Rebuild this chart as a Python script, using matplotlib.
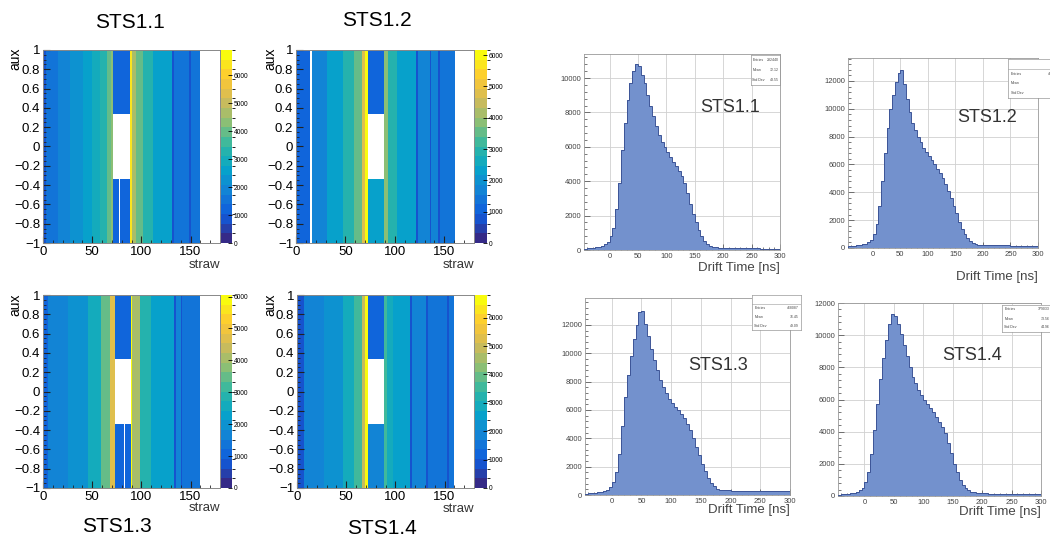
import numpy as np
import matplotlib
matplotlib.use('Agg')
import matplotlib.pyplot as plt
from matplotlib.colors import LinearSegmentedColormap, BoundaryNorm
from matplotlib.ticker import MultipleLocator, FuncFormatter

plt.rcParams['font.family'] = ['Liberation Sans', 'DejaVu Sans']

nan = np.nan

# ---------------- straw occupancy (straw vs aux) ----------------
# column edges in straw number; counts for the upper (aux > 1/3) and lower (aux < -1/3) parts
edges_11 = [0, 3, 15, 27, 41, 50, 58, 65, 69, 71, 77, 78, 88, 90, 95, 102, 112, 131, 133, 148, 150, 160, 180]
upper_11 = [800, 1500, 1800, 2200, 2600, 2900, 3300, 3800, 4300, 1300, 1300, 1300, 6300, 4700, 3800, 3200, 2700, 800, 1700, 700, 1500, nan]
lower_11 = [800, 1500, 1800, 2200, 2600, 2900, 3300, 3800, 4300, 1300, nan, 1300, 6300, 4700, 3800, 3200, 2700, 800, 1700, 700, 1500, nan]
gap_11 = (71, 88)
zmax_11 = 6900

edges_12 = [0, 14, 16, 31, 48, 59, 67, 70, 73, 89, 93, 102, 121, 123, 135, 137, 144, 146, 161, 180]
upper_12 = [1000, nan, 1800, 2300, 2800, 3500, 4800, 6000, 1100, 3700, 3000, 2300, 900, 1800, 900, 1700, 900, 1500, nan]
lower_12 = [1000, nan, 1800, 2300, 2800, 3500, 4800, 6000, 2300, 3700, 3000, 2300, 900, 1800, 900, 1700, 900, 1500, nan]
gap_12 = (73, 89)
zmax_12 = 6160

edges_13 = [0, 5, 25, 46, 59, 68, 73, 82, 83, 89, 91, 99, 110, 133, 135, 140, 141, 160, 180]
upper_13 = [1000, 1600, 2100, 2700, 3500, 4700, 1200, 1200, 1200, 5900, 4100, 3000, 2300, 800, 1800, 800, 1500, nan]
lower_13 = [1000, 1600, 2100, 2700, 3500, 4700, 1200, nan, 1200, 5900, 4100, 3000, 2300, 800, 1800, 800, 1500, nan]
gap_13 = (73, 89)
zmax_13 = 6050

edges_14 = [0, 7, 27, 47, 58, 66, 69, 72, 88, 92, 98, 115, 117, 131, 133, 153, 155, 160, 180]
upper_14 = [900, 1700, 2200, 2800, 3700, 5000, 6600, 1200, 3500, 2800, 2400, 900, 1800, 900, 1600, 900, 1500, nan]
lower_14 = [900, 1700, 2200, 2800, 3700, 5000, 6600, 1900, 3500, 2800, 2400, 900, 1800, 900, 1600, 900, 1500, nan]
gap_14 = (72, 88)
zmax_14 = 6800

# ---------------- drift time spectra, 5 ns bins from -45 ns ----------------
dt_edges = np.arange(-45, 301, 5)

drift_11 = [80, 100, 110, 130, 160, 190, 240, 320, 450,
            800, 1300, 2400, 3900, 5800, 7400, 8700, 9700, 10400, 10800,
            10700, 10200, 9700, 9000, 8400, 7800, 7200, 6700, 6300, 6000,
            5700, 5400, 5100, 4900, 4600, 4300, 3900, 3300, 2700, 2100,
            1600, 1150, 800, 520, 350, 240, 180, 150, 130, 120,
            110, 110, 105, 100, 100, 100, 95, 95, 95, 90,
            90, 90, 90, 85, 85, 85, 85, 80, 80, 80]
drift_12 = [150, 160, 170, 190, 220, 260, 320, 420, 600,
            1000, 1700, 3000, 4800, 6800, 8600, 10000, 11000, 11900, 12600,
            12800, 11800, 10700, 9800, 9000, 8500, 8000, 7600, 7200, 6900,
            6600, 6300, 6000, 5700, 5400, 5000, 4600, 4100, 3600, 3000,
            2500, 1900, 1400, 1000, 700, 500, 380, 300, 250, 220,
            210, 200, 200, 195, 190, 190, 185, 180, 180, 180,
            175, 175, 170, 170, 170, 165, 165, 160, 160, 160]
drift_13 = [100, 110, 130, 150, 180, 220, 280, 380, 550,
            950, 1600, 2900, 4900, 6900, 8500, 9800, 11000, 12000, 12900,
            13000, 12100, 11200, 10300, 9500, 8800, 8100, 7600, 7200, 6800,
            6500, 6200, 6000, 5700, 5400, 5000, 4600, 4000, 3400, 2800,
            2200, 1700, 1200, 850, 600, 450, 380, 350, 330, 320,
            310, 310, 300, 300, 300, 295, 290, 290, 285, 285,
            280, 280, 280, 275, 275, 270, 270, 270, 265, 265]
drift_14 = [90, 100, 110, 130, 160, 200, 260, 350, 500,
            900, 1500, 2600, 4100, 5700, 7300, 8600, 9700, 10700, 11300,
            11200, 10700, 10100, 9400, 8700, 8000, 7400, 7000, 6600, 6300,
            6000, 5700, 5500, 5200, 4900, 4600, 4300, 3900, 3300, 2700,
            2000, 1500, 1000, 700, 480, 350, 270, 220, 190, 170,
            160, 160, 155, 155, 150, 150, 150, 145, 145, 145,
            145, 140, 140, 140, 140, 140, 135, 135, 135, 135]

stats_11 = [('Entries', '282440'), ('Mean', '72.12'), ('Std Dev', '43.55')]
stats_12 = [('Entries', '468750'), ('Mean', '77.03'), ('Std Dev', '48.41')]
stats_13 = [('Entries', '468087'), ('Mean', '76.45'), ('Std Dev', '49.09')]
stats_14 = [('Entries', '379033'), ('Mean', '73.56'), ('Std Dev', '44.96')]

# ROOT "bird" palette
stops = [0.0, 0.125, 0.25, 0.375, 0.5, 0.625, 0.75, 0.875, 1.0]
red = [0.2082, 0.0592, 0.0780, 0.0232, 0.1802, 0.5301, 0.8186, 0.9956, 0.9764]
green = [0.1664, 0.3599, 0.5041, 0.6419, 0.7178, 0.7492, 0.7328, 0.7862, 0.9832]
blue = [0.5293, 0.8684, 0.8385, 0.7914, 0.6425, 0.4662, 0.3499, 0.1968, 0.0539]
bird = LinearSegmentedColormap.from_list('bird', list(zip(stops, zip(red, green, blue))), N=256)

W, H = 1050, 540
fig = plt.figure(figsize=(10.5, 5.4), dpi=100)


def rect(l, t, r, b):
    return [l / W, 1 - b / H, (r - l) / W, (b - t) / H]


def fx(x):
    return x / W


def fy(y):
    return 1 - y / H


def num(v, pos=None):
    return ('%g' % round(v, 6)).replace('-', '\u2212')


def occupancy(box, cbar_r, edges, upper, lower, gap, zmax, title, title_xy, aux_xy, straw_y):
    l, t, r, b = box
    ax = fig.add_axes(rect(l, t, r, b))
    edges = np.array(edges, float)
    upper = np.array(upper, float)
    lower = np.array(lower, float)
    centres = (edges[:-1] + edges[1:]) / 2
    middle = np.where((centres > gap[0]) & (centres < gap[1]), nan, upper)
    z = np.vstack([lower, middle, upper])
    norm = BoundaryNorm(np.linspace(0, zmax, 21), bird.N)
    mesh = ax.pcolormesh(edges, [-1, -1 / 3, 1 / 3, 1], z, cmap=bird, norm=norm)
    ax.set_xlim(0, 180)
    ax.set_ylim(-1, 1)
    ax.xaxis.set_major_locator(MultipleLocator(50))
    ax.xaxis.set_minor_locator(MultipleLocator(10))
    ax.yaxis.set_major_locator(MultipleLocator(0.2))
    ax.yaxis.set_minor_locator(MultipleLocator(0.05))
    ax.yaxis.set_major_formatter(FuncFormatter(num))
    ax.tick_params(which='both', direction='in', labelsize=9.5, pad=2, color='#222')
    ax.tick_params(which='major', length=5)
    ax.tick_params(which='minor', length=2.5)
    for s in ax.spines.values():
        s.set_color('#888')
        s.set_linewidth(0.7)

    cax = fig.add_axes(rect(r + 1, t, cbar_r, b))
    cb = fig.colorbar(mesh, cax=cax)
    cb.outline.set_visible(False)
    cb.set_ticks(np.arange(0, zmax, 1000))
    cax.tick_params(direction='in', length=3, width=0.6, labelsize=4.8, pad=1)

    fig.text(fx(title_xy[0]), fy(title_xy[1]), title, ha='center', va='center', fontsize=15)
    fig.text(fx(aux_xy[0]), fy(aux_xy[1]), 'aux', rotation=90, ha='center', va='top', fontsize=10)
    fig.text(fx(r), fy(straw_y), 'straw', ha='right', va='center', fontsize=9.5, color='#333')


def drift(box, counts, ymax, label, label_xy, xlab_y):
    l, t, r, b = box
    ax = fig.add_axes(rect(l, t, r, b))
    ax.stairs(counts, dt_edges, fill=True, color='#7391cd', zorder=2)
    ax.stairs(counts, dt_edges, color='#3d5597', lw=0.7, zorder=3)
    ax.set_xlim(-45, 300)
    ax.set_ylim(0, ymax)
    ax.xaxis.set_major_locator(MultipleLocator(50))
    ax.xaxis.set_minor_locator(MultipleLocator(10))
    ax.yaxis.set_major_locator(MultipleLocator(2000))
    ax.yaxis.set_minor_locator(MultipleLocator(400))
    ax.grid(True, which='major', color='#d0d0d0', lw=0.6, zorder=0)
    ax.set_axisbelow(True)
    ax.tick_params(which='both', direction='in', labelsize=5.5, pad=2,
                   color='#444', labelcolor='#444', width=0.5)
    ax.tick_params(which='major', length=4)
    ax.tick_params(which='minor', length=2)
    for s in ax.spines.values():
        s.set_color('#999')
        s.set_linewidth(0.6)
    fig.text(fx(label_xy[0]), fy(label_xy[1]), label, ha='center', va='center',
             fontsize=13, color='#333')
    fig.text(fx(r), fy(xlab_y), 'Drift Time [ns]', ha='right', va='center',
             fontsize=9.5, color='#444')


def stats_box(box, rows, header=False):
    bx = fig.add_axes(rect(*box))
    bx.set_xticks([])
    bx.set_yticks([])
    bx.set_facecolor('white')
    for s in bx.spines.values():
        s.set_color('#999')
        s.set_linewidth(0.5)
    n = len(rows) + (1 if header else 0)
    off = 1 if header else 0
    for i, (k, v) in enumerate(rows):
        y = 1 - (i + off + 0.5) / n
        bx.text(0.05, y, k, fontsize=2.5, va='center', color='#444', transform=bx.transAxes)
        bx.text(0.96, y, v, fontsize=2.5, va='center', ha='right', color='#444', transform=bx.transAxes)
    if header:
        bx.axhline(1 - 1 / n, color='#999', lw=0.4)


occupancy((43, 50, 220, 243), 232, edges_11, upper_11, lower_11, gap_11, zmax_11,
          'STS1.1', (130, 22), (15, 48), 265)
occupancy((296, 50, 474, 243), 487, edges_12, upper_12, lower_12, gap_12, zmax_12,
          'STS1.2', (377, 20), (270, 48), 265)
occupancy((43, 295, 220, 488), 232, edges_13, upper_13, lower_13, gap_13, zmax_13,
          'STS1.3', (117, 527), (15, 293), 508)
occupancy((297, 295, 474, 488), 487, edges_14, upper_14, lower_14, gap_14, zmax_14,
          'STS1.4', (382, 529), (270, 293), 509)

drift((584, 54, 780, 250), drift_11, 11400, 'STS1.1', (730, 108), 268)
drift((848, 58, 1038, 248), drift_12, 13650, 'STS1.2', (987, 118), 277)
drift((585, 298, 790, 495), drift_13, 13900, 'STS1.3', (718, 365), 510)
drift((838, 303, 1041, 496), drift_14, 12000, 'STS1.4', (972, 355), 512)

stats_box((751, 55, 780, 85), stats_11)
stats_box((1008, 59, 1062, 98), stats_12, header=True)
stats_box((752, 295, 801, 330), stats_13, header=True)
stats_box((1002, 305, 1052, 332), stats_14)

fig.savefig('out.png', dpi=100, facecolor='white')
